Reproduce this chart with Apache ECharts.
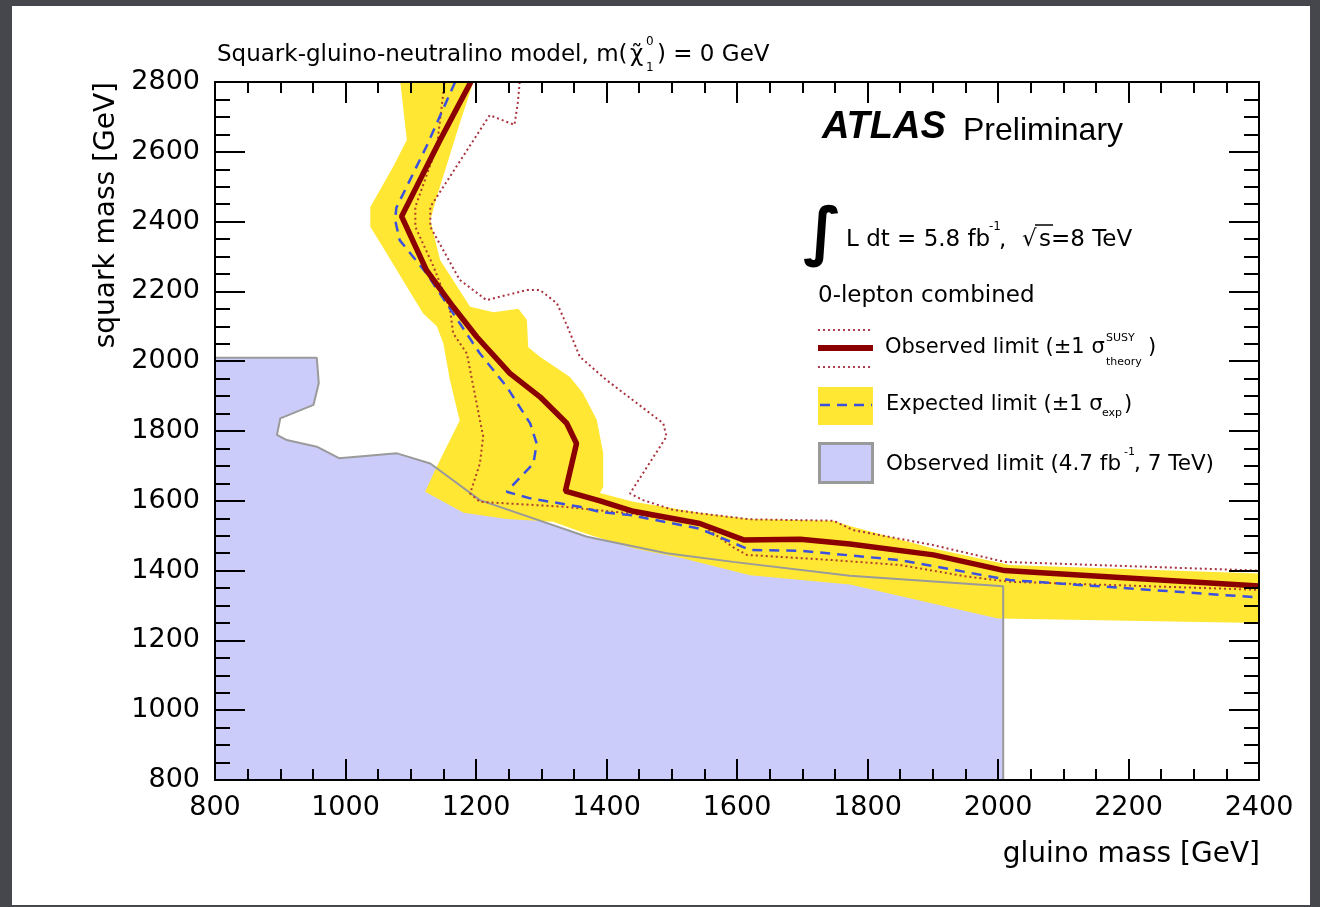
<!DOCTYPE html>
<html>
<head>
<meta charset="utf-8">
<title>Squark-gluino-neutralino exclusion</title>
<script src="https://cdn.jsdelivr.net/npm/echarts@6/dist/echarts.min.js"></script>
<style>
  html, body { margin: 0; padding: 0; width: 1320px; height: 907px; background: #45474c; overflow: hidden; }
  #panel { position: absolute; left: 12px; top: 6px; width: 1298px; height: 899px; background: #ffffff; }
  #chart { position: absolute; left: 0; top: 0; width: 1320px; height: 907px; }
</style>
</head>
<body>
<div id="panel"></div>
<div id="chart"></div>
<script>
// Axis ranges (GeV)
const gluinoRange = [800, 2400];
const squarkRange = [800, 2800];
const gluinoStep = 200;
const squarkStep = 200;

// Observed 95% CL limit, 8 TeV, 5.8 fb^-1: [gluino mass, squark mass]
const observedLimit = [
  [1192, 2800], [1145, 2634], [1086, 2415], [1124, 2261], [1165, 2156], [1201, 2070],
  [1252, 1965], [1298, 1898], [1339, 1822], [1354, 1764], [1337, 1628], [1390, 1600],
  [1441, 1570], [1543, 1535], [1610, 1488], [1697, 1490], [1773, 1476], [1901, 1445],
  [2010, 1400], [2400, 1356]
];

// Observed limit with signal cross-section +1 sigma (theory)
const observedTheoryUp = [
  [1267, 2800], [1264, 2740], [1259, 2677], [1221, 2705], [1130, 2442], [1130, 2385],
  [1175, 2233], [1216, 2175], [1278, 2204], [1298, 2204], [1324, 2166], [1340, 2100],
  [1359, 2013], [1400, 1946], [1487, 1822], [1492, 1784], [1436, 1621], [1456, 1602],
  [1502, 1574], [1543, 1564], [1620, 1547], [1748, 1543], [1778, 1516], [1901, 1473],
  [2010, 1425], [2400, 1400]
];

// Observed limit with signal cross-section -1 sigma (theory)
const observedTheoryDown = [
  [1152, 2800], [1140, 2615], [1107, 2442], [1107, 2385], [1135, 2271], [1160, 2150],
  [1165, 2080], [1186, 2022], [1201, 1879], [1211, 1784], [1206, 1707], [1191, 1621],
  [1206, 1597], [1334, 1583], [1436, 1564], [1543, 1535], [1594, 1467], [1615, 1445],
  [1748, 1430], [1850, 1416], [1952, 1383], [2018, 1368], [2400, 1345]
];

// Expected limit
const expectedLimit = [
  [1168, 2800], [1124, 2615], [1078, 2440], [1076, 2405], [1083, 2347], [1124, 2252],
  [1165, 2137], [1206, 2022], [1247, 1927], [1283, 1822], [1293, 1764], [1288, 1707],
  [1247, 1626], [1283, 1607], [1359, 1583], [1390, 1568], [1436, 1559], [1543, 1520],
  [1620, 1459], [1697, 1457], [1850, 1430], [2018, 1373], [2400, 1323]
];

// Expected limit +/-1 sigma (experimental) band, outlined as a closed polygon
const expectedBand = [
  [1196, 2800], [1175, 2681], [1140, 2471], [1130, 2404], [1145, 2290], [1191, 2156],
  [1227, 2140], [1265, 2150], [1278, 2118], [1280, 2040], [1298, 2013], [1344, 1955],
  [1364, 1908], [1385, 1832], [1395, 1736], [1395, 1640], [1390, 1622], [1441, 1597],
  [1543, 1566], [1620, 1548], [1748, 1543], [1773, 1528], [1901, 1463], [2018, 1416],
  [2400, 1392],
  [2400, 1250], [2000, 1263], [1773, 1360], [1620, 1387], [1518, 1435], [1441, 1464],
  [1370, 1505], [1318, 1540], [1247, 1548], [1181, 1566], [1122, 1626], [1140, 1698],
  [1175, 1830], [1160, 1946], [1150, 2051], [1140, 2100], [1119, 2137], [1094, 2213],
  [1063, 2309], [1038, 2385], [1038, 2442], [1073, 2557], [1094, 2634], [1084, 2800]
];

// Previous observed limit, 7 TeV, 4.7 fb^-1 (excluded region)
const observed7TeV = [
  [800, 800], [800, 2010], [956, 2010], [959, 1937], [951, 1875], [900, 1836],
  [895, 1789], [910, 1774], [956, 1755], [990, 1722], [1079, 1736], [1130, 1707],
  [1206, 1602], [1370, 1497], [1492, 1450], [1594, 1425], [1773, 1385], [2008, 1355],
  [2008, 800]
];
// Its drawn boundary (without the corner on the axes)
const observed7TeVEdge = observed7TeV.slice(1);

const FONT = 'DejaVu Sans';

function areaSeries(name, pts, fill, z) {
  return {
    type: 'custom', name, xAxisIndex: 0, yAxisIndex: 0, z, silent: true, clip: true,
    data: pts, encode: { x: 0, y: 1 },
    renderItem(params, api) {
      if (params.dataIndex !== 0) return null;
      return {
        type: 'polygon',
        shape: { points: pts.map(p => api.coord(p)) },
        style: { fill: fill, stroke: null }
      };
    }
  };
}

function lineSeries(name, pts, lineStyle, z) {
  return {
    type: 'line', name, xAxisIndex: 0, yAxisIndex: 0, z, silent: true, clip: true,
    data: pts, showSymbol: false, symbol: 'none', smooth: false, lineStyle
  };
}

function axisCommon(isX, showLabel, position) {
  return {
    type: 'value',
    position,
    min: isX ? gluinoRange[0] : squarkRange[0],
    max: isX ? gluinoRange[1] : squarkRange[1],
    interval: isX ? gluinoStep : squarkStep,
    z: 10,
    axisLine: { show: true, onZero: false, lineStyle: { color: '#000', width: 2 } },
    axisTick: { show: true, inside: true, length: isX ? 21 : 30, lineStyle: { color: '#000', width: 2 } },
    minorTick: { show: true, splitNumber: 4, length: isX ? 11 : 15, lineStyle: { color: '#000', width: 2 } },
    splitLine: { show: false },
    minorSplitLine: { show: false },
    axisLabel: {
      show: showLabel, color: '#000', fontFamily: FONT, fontSize: 27,
      margin: isX ? 14 : 15, showMinLabel: true, showMaxLabel: true,
      formatter: v => String(v)
    }
  };
}

function txt(text, x, y, size, extra) {
  const style = Object.assign({
    text, fontSize: size, fontFamily: FONT, fill: '#000',
    align: 'left', verticalAlign: 'middle', textAlign: 'left', textVerticalAlign: 'middle'
  }, extra || {});
  return { type: 'text', x, y, z: 100, silent: true, style };
}

function seg(x1, y1, x2, y2, stroke, width, dash) {
  return {
    type: 'line', z: 100, silent: true,
    shape: { x1, y1, x2, y2 },
    style: { stroke, lineWidth: width, lineDash: dash || null }
  };
}

const chart = echarts.init(document.getElementById('chart'), null, { renderer: 'canvas' });

const option = {
  animation: false,
  backgroundColor: 'transparent',
  grid: { left: 215, top: 82, width: 1044, height: 698, containLabel: false, outerBoundsMode: 'none' },
  xAxis: [axisCommon(true, true, 'bottom'), axisCommon(true, false, 'top')],
  yAxis: [axisCommon(false, true, 'left'), axisCommon(false, false, 'right')],
  series: [
    areaSeries('Observed limit (4.7 fb-1, 7 TeV)', observed7TeV, '#ccccfb', 1),
    areaSeries('Expected limit band', expectedBand, '#ffe733', 2),
    lineSeries('7 TeV boundary', observed7TeVEdge, { color: '#9a9a9a', width: 2 }, 3),
    lineSeries('Observed +1 sigma theory', observedTheoryUp, { color: '#a8323e', width: 2, type: [2, 3] }, 4),
    lineSeries('Observed -1 sigma theory', observedTheoryDown, { color: '#b0402a', width: 2, type: [2, 3] }, 4),
    lineSeries('Expected limit', expectedLimit, { color: '#3c50e0', width: 2.5, type: [10, 7] }, 5),
    lineSeries('Observed limit', observedLimit, { color: '#8b0000', width: 5.5 }, 6)
  ],
  graphic: [
    // Title
    txt('Squark-gluino-neutralino model, m(', 217, 55, 23),
    txt('\u03C7\u0303', 630, 55, 23),
    txt('0', 646, 42, 12),
    txt('1', 646, 68, 12),
    txt(') = 0 GeV', 657, 55, 23),

    // Axis titles
    txt('gluino mass [GeV]', 1260, 855, 28, { align: 'right', textAlign: 'right' }),
    Object.assign(txt('squark mass [GeV]', 0, 0, 28, { align: 'right', textAlign: 'right' }),
      { x: 107, y: 82, rotation: Math.PI / 2 }),

    // Experiment label
    txt('ATLAS', 822, 128, 38, { fontFamily: 'Liberation Sans', fontWeight: 'bold', fontStyle: 'italic' }),
    txt('Preliminary', 963, 131, 32, { fontFamily: 'Liberation Sans' }),

    // Luminosity and energy
    txt('\u222B', 803, 236, 64, { fontWeight: 'bold' }),
    txt('L dt = 5.8 fb', 846, 240, 23),
    txt('-1', 989, 227, 12),
    txt(',', 999, 240, 23),
    txt('\u221A', 1022, 240, 23),
    seg(1035, 225, 1053, 225, '#000', 1.5),
    txt('s=8 TeV', 1039, 240, 23),

    txt('0-lepton combined', 818, 296, 23),

    // Legend: observed limit with theory band
    seg(818, 330, 873, 330, '#b04050', 2, [2, 3]),
    seg(818, 348, 873, 348, '#8b0000', 6),
    seg(818, 367, 873, 367, '#b04050', 2, [2, 3]),
    txt('Observed limit (\u00B11 \u03C3', 885, 348, 21),
    txt('SUSY', 1106, 338, 11),
    txt('theory', 1106, 362, 11),
    txt(')', 1148, 348, 21),

    // Legend: expected limit with band
    { type: 'rect', z: 99, silent: true, shape: { x: 818, y: 387, width: 55, height: 38 }, style: { fill: '#ffe733' } },
    seg(820, 405, 872, 405, '#3c50e0', 2.5, [10, 7]),
    txt('Expected limit (\u00B11 \u03C3', 886, 405, 21),
    txt('exp', 1102, 413, 11),
    txt(')', 1124, 405, 21),

    // Legend: 7 TeV result
    { type: 'rect', z: 99, silent: true, shape: { x: 819.5, y: 443.5, width: 53, height: 39 }, style: { fill: '#ccccfb', stroke: '#9a9a9a', lineWidth: 3 } },
    txt('Observed limit (4.7 fb', 886, 464, 21.5),
    txt('-1', 1124, 452, 11),
    txt(', 7 TeV)', 1134, 464, 21.5)
  ]
};

chart.setOption(option);
</script>
</body>
</html>
